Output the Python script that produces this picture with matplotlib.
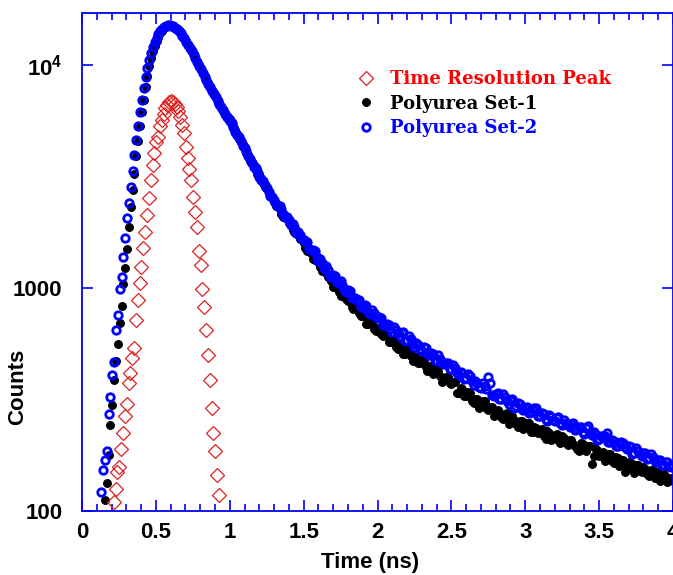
import numpy as np
import matplotlib
matplotlib.use("Agg")
from matplotlib import pyplot as plt
from matplotlib.ticker import FixedLocator, MultipleLocator, NullLocator, FuncFormatter

# channel grids (ns)
fine_step = 0.0125
tail_t0 = 1.0
tail_step = 0.025

# time resolution peak (starts at 0.215 ns)
peak_t0 = 0.215
peak_counts = [110, 126, 150, 158, 190, 223, 267, 302, 374, 414, 484, 537, 719,
               884, 1050, 1240, 1505, 1790, 2120, 2520, 3050,
               3550, 4020, 4500, 4760, 5300, 5660, 6050, 6400, 6600, 6800, 6900,
               6800, 6700, 6500, 6200, 5860, 5400, 4940, 4300, 3820, 3400, 3050,
               2560, 2200, 1880, 1470, 1270, 986, 819, 648, 501, 386, 290, 224,
               185, 145, 118]

# polyurea set-1, rise and peak (starts at 0.155 ns)
set1_t0 = 0.155
set1_fine = [112, 134, 178, 243, 300, 385, 470, 560, 700, 830, 1040, 1230, 1500,
             1880, 2300, 2750, 3250, 3900, 4550, 5300, 6150, 7000, 7950, 8900,
             9850, 10700, 11500, 12200, 12800, 13350, 13850, 14250, 14600, 14850,
             15000, 15050, 15000, 14900, 14750, 14550, 14300, 13950, 13600, 13200,
             12800, 12350, 11950, 11550, 11150, 10750, 10350, 9950, 9600, 9250,
             8900, 8600, 8300, 8000, 7700, 7450, 7200, 6950, 6700, 6500, 6300,
             6100, 5900, 5750]
# polyurea set-1, tail channels at 1.0, 1.025, ... 4.0 ns
set1_tail = [5700, 5190, 4920, 4520, 4160, 3960, 3690, 3380, 3240, 2950,
             2790, 2640, 2420, 2320, 2140, 2090, 1960, 1825, 1800, 1660,
             1590, 1465, 1435, 1340, 1310, 1190, 1165, 1130, 1010, 1000,
             925, 935, 870, 820, 830, 770, 752, 693, 713, 657,
             662, 623, 635, 574, 580, 543, 556, 504, 532, 494,
             497, 460, 476, 442, 448, 411, 435, 404, 385, 399,
             372, 378, 339, 351, 329, 338, 304, 318, 302, 310,
             283, 294, 274, 279, 258, 274, 257, 257, 238, 254,
             237, 248, 227, 236, 225, 216, 228, 208, 220, 209,
             216, 201, 208, 200, 189, 202, 189, 195, 162, 191,
             177, 184, 174, 180, 164, 172, 163, 150, 166, 154,
             160, 151, 158, 147, 152, 141, 149, 140, 142, 137, 139]
# polyurea set-1, tail channels at 1.0125, 1.0375, ... 3.9875 ns
set1_tail_mid = [5390, 5100, 4650, 4400, 4050, 3710, 3560, 3260, 3110, 2850,
                 2700, 2560, 2340, 2260, 2080, 2030, 1930, 1780, 1720, 1660,
                 1515, 1490, 1345, 1335, 1245, 1220, 1115, 1080, 1035, 955,
                 965, 890, 880, 805, 808, 751, 748, 689, 695, 640,
                 659, 607, 613, 574, 584, 530, 543, 508, 520, 472,
                 490, 459, 476, 423, 442, 418, 425, 378, 399, 373,
                 378, 339, 356, 329, 342, 311, 319, 290, 310, 289,
                 294, 268, 285, 263, 272, 245, 267, 246, 253, 234,
                 247, 225, 237, 223, 233, 210, 224, 213, 221, 201,
                 212, 197, 209, 196, 185, 199, 186, 195, 177, 187,
                 177, 167, 181, 167, 174, 159, 170, 159, 164, 148,
                 160, 150, 155, 143, 152, 143, 136, 146, 135, 140]

# polyurea set-2, rise and peak (starts at 0.13 ns)
set2_t0 = 0.13
set2_fine = [122, 153, 170, 185, 272, 326, 407, 468, 649, 757, 986, 1125, 1380,
             1670, 2055, 2415, 2845, 3350, 3950, 4600, 5350, 6150, 7000, 7900,
             8800, 9700, 10550, 11350, 12050, 12700, 13250, 13750, 14150, 14500,
             14800, 15000, 15100, 15100, 15000, 14900, 14700, 14500, 14250, 13900,
             13550, 13150, 12700, 12300, 11900, 11500, 11100, 10700, 10300, 9900,
             9550, 9200, 8850, 8550, 8250, 7950, 7650, 7400, 7150, 6900, 6650,
             6450, 6250, 6050, 5850, 5700]
# polyurea set-2, tail channels at 1.0, 1.025, ... 4.0 ns
set2_tail = [5620, 5290, 4850, 4570, 4230, 3890, 3640, 3450, 3160, 3010,
             2820, 2590, 2480, 2320, 2270, 2090, 2020, 1935, 1765, 1730,
             1635, 1600, 1480, 1465, 1325, 1300, 1260, 1140, 1140, 1063,
             1073, 991, 980, 898, 900, 884, 820, 827, 762, 769,
             730, 735, 679, 685, 638, 647, 611, 632, 586, 588,
             546, 554, 524, 538, 503, 505, 469, 481, 454, 460,
             434, 436, 407, 417, 395, 402, 366, 375, 355, 362,
             400, 330, 335, 319, 333, 311, 314, 291, 306, 287,
             291, 275, 285, 290, 266, 271, 253, 265, 254, 264,
             242, 249, 238, 247, 234, 238, 221, 241, 219, 222,
             210, 218, 223, 203, 206, 195, 203, 193, 196, 181,
             192, 180, 182, 171, 181, 168, 170, 160, 166, 159, 161]
# polyurea set-2, tail channels at 1.0125, 1.0375, ... 3.9875 ns
set2_tail_mid = [5500, 5000, 4740, 4320, 4100, 3780, 3500, 3330, 3050, 2910,
                 2680, 2560, 2385, 2330, 2145, 2075, 1910, 1870, 1790, 1660,
                 1625, 1500, 1487, 1373, 1345, 1230, 1206, 1124, 1129, 1052,
                 1031, 961, 972, 899, 884, 820, 840, 782, 796, 741,
                 740, 683, 690, 652, 669, 626, 627, 581, 607, 563,
                 566, 530, 545, 510, 512, 474, 501, 460, 462, 435,
                 450, 417, 422, 392, 410, 381, 383, 360, 376, 354,
                 374, 328, 339, 319, 323, 301, 317, 296, 301, 284,
                 294, 278, 291, 268, 274, 258, 269, 255, 260, 247,
                 257, 242, 246, 231, 239, 226, 235, 223, 225, 209,
                 217, 218, 204, 209, 196, 201, 202, 189, 194, 182,
                 186, 177, 182, 173, 175, 165, 170, 161, 165, 158]

legend_labels = ["Time Resolution Peak", "Polyurea Set-1", "Polyurea Set-2"]
legend_colors = ["#ff0000", "black", "#0000ff"]

plt.rcParams['font.family'] = ['Liberation Sans Narrow', 'Liberation Sans', 'DejaVu Sans']
plt.rcParams['font.weight'] = 'bold'
plt.rcParams['mathtext.fontset'] = 'custom'
plt.rcParams['mathtext.rm'] = 'Liberation Sans:bold'
plt.rcParams['mathtext.it'] = 'Liberation Sans:bold'
plt.rcParams['mathtext.bf'] = 'Liberation Sans:bold'


def channels(t0, step, n):
    return t0 + step * np.arange(n)


# build time axes from channel index
peak_t = channels(peak_t0, fine_step, len(peak_counts))
set1_t = np.concatenate([channels(set1_t0, fine_step, len(set1_fine)),
                         channels(tail_t0, tail_step, len(set1_tail)),
                         channels(tail_t0 + tail_step / 2, tail_step, len(set1_tail_mid))])
set1_c = np.array(set1_fine + set1_tail + set1_tail_mid)
set2_t = np.concatenate([channels(set2_t0, fine_step, len(set2_fine)),
                         channels(tail_t0, tail_step, len(set2_tail)),
                         channels(tail_t0 + tail_step / 2, tail_step, len(set2_tail_mid))])
set2_c = np.array(set2_fine + set2_tail + set2_tail_mid)

fig = plt.figure(figsize=(6.73, 5.75), dpi=100)
ax = fig.add_axes([82 / 673, 64 / 575, 591 / 673, 498 / 575])

ax.plot(set1_t, set1_c, 'o', ms=5.6, mfc='black', mec='black', mew=0.8,
        label=legend_labels[1], zorder=2)
ax.plot(set2_t, set2_c, 'o', ms=5.4, mfc='none', mec='#0000ff', mew=2.0,
        label=legend_labels[2], zorder=3)
ax.plot(peak_t, peak_counts, 'D', ms=6.8, mfc='none', mec='#dd2020', mew=0.9,
        label=legend_labels[0], zorder=4)

ax.set_yscale('log')
ax.set_xlim(0, 4)
ax.set_ylim(100, 17100)

# ticks
ax.xaxis.set_major_locator(MultipleLocator(0.5))
ax.xaxis.set_minor_locator(MultipleLocator(0.1))
ax.yaxis.set_major_locator(FixedLocator([100, 1000, 10000]))
ax.yaxis.set_minor_locator(NullLocator())
ax.xaxis.set_major_formatter(FuncFormatter(lambda v, p: "%g" % v))
ax.yaxis.set_major_formatter(FuncFormatter(
    lambda v, p: r"$10^4$" if v >= 10000 else "%d" % v))
ax.tick_params(which='both', direction='in', top=True, right=True,
               color='#0000ff', width=1.2)
ax.tick_params(which='major', length=8, labelsize=16)
ax.tick_params(which='minor', length=4.7)
ax.tick_params(axis='x', pad=8)
ax.tick_params(axis='y', pad=14)

for s in ax.spines.values():
    s.set_color('#0000ff')
    s.set_linewidth(1.3)

ax.set_xlabel("Time (ns)", fontsize=16, fontweight='bold')
ax.set_ylabel("Counts", fontsize=16, fontweight='bold')
ax.xaxis.set_label_coords(0.487, -0.083)
ax.yaxis.set_label_coords(-0.092, 0.25)

# legend
h, l = ax.get_legend_handles_labels()
order = [2, 0, 1]
leg = ax.legend([h[i] for i in order], [l[i] for i in order],
                loc='upper left', bbox_to_anchor=(0.466, 0.8855),
                frameon=False, borderpad=0, borderaxespad=0, handlelength=1.0,
                handletextpad=0.8, labelspacing=0.37,
                prop={'family': 'DejaVu Serif', 'weight': 'bold', 'size': 13})
for txt, col in zip(leg.get_texts(), legend_colors):
    txt.set_color(col)

fig.savefig("out.png", dpi=100)
